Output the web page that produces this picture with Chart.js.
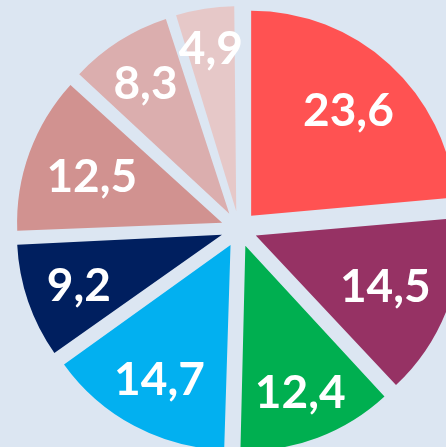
<!DOCTYPE html>
<html lang="pt-BR">
<head>
  <meta charset="UTF-8" />
  <title>Gráfico de pizza</title>
  <style>
    html, body { margin: 0; padding: 0; background: #dce6f2; overflow: hidden; }
    #grafico { display: block; }
  </style>
</head>
<body>
  <canvas id="grafico" width="446" height="447"></canvas>

  <script src="https://cdn.jsdelivr.net/npm/chart.js"></script>
  <script>
    // Dados
    const categorias = ['Fatia 1', 'Fatia 2', 'Fatia 3', 'Fatia 4', 'Fatia 5', 'Fatia 6', 'Fatia 7', 'Fatia 8'];
    const valores = [23.6, 14.5, 12.4, 14.7, 9.2, 12.5, 8.3, 4.9];
    const cores = ['#ff5252', '#963264', '#00af50', '#02b0f0', '#001f5f', '#d19290', '#dbaeae', '#e6c8c8'];

    const RAIO = 205;       // raio da pizza (px)
    const DESLOC = 18;      // deslocamento de cada fatia (explosão)
    const LIMITE_ROTULO = 187; // rótulo encostado por dentro da borda externa
    const TAM_FONTE = 46;

    function formatar(v) {
      return v.toFixed(1).replace('.', ',');
    }

    // o offset do Chart.js também aumenta o raio das fatias pequenas; compensa aqui
    const ajusteRaio = {
      id: 'ajusteRaio',
      afterDatasetUpdate(chart, args) {
        chart.getDatasetMeta(args.index).data.forEach(arc => {
          const fix = 1 - Math.sin(Math.min(Math.PI, arc.circumference));
          arc.outerRadius = RAIO - DESLOC * fix;
        });
      }
    };

    // rótulos brancos dentro das fatias (tipo "extremidade interna")
    const rotulosValor = {
      id: 'rotulosValor',
      afterDatasetsDraw(chart) {
        const ctx = chart.ctx;
        ctx.save();
        ctx.fillStyle = '#ffffff';
        ctx.font = 'bold ' + TAM_FONTE + 'px Lato';
        ctx.textAlign = 'center';
        ctx.textBaseline = 'alphabetic';
        const meiaAltura = TAM_FONTE * 0.36;
        chart.getDatasetMeta(0).data.forEach((arc, i) => {
          const txt = formatar(valores[i]);
          const meio = (arc.startAngle + arc.endAngle) / 2;
          const cx = Math.cos(meio), sy = Math.sin(meio);
          const meiaLarg = ctx.measureText(txt).width / 2;
          const d = DESLOC + LIMITE_ROTULO - (Math.abs(cx) * meiaLarg + Math.abs(sy) * meiaAltura);
          ctx.fillText(txt, arc.x + cx * d, arc.y + sy * d + meiaAltura);
        });
        ctx.restore();
      }
    };

    new Chart(document.getElementById('grafico'), {
      type: 'pie',
      data: {
        labels: categorias,
        datasets: [{
          data: valores,
          backgroundColor: cores,
          borderWidth: 0,
          offset: DESLOC * 4,
          hoverOffset: 0
        }]
      },
      options: {
        responsive: false,
        animation: false,
        radius: RAIO,
        layout: { padding: { left: 32, top: 11, right: 0, bottom: 0 } },
        plugins: {
          legend: { display: false },
          tooltip: { enabled: false }
        }
      },
      plugins: [ajusteRaio, rotulosValor]
    });
  </script>
</body>
</html>
